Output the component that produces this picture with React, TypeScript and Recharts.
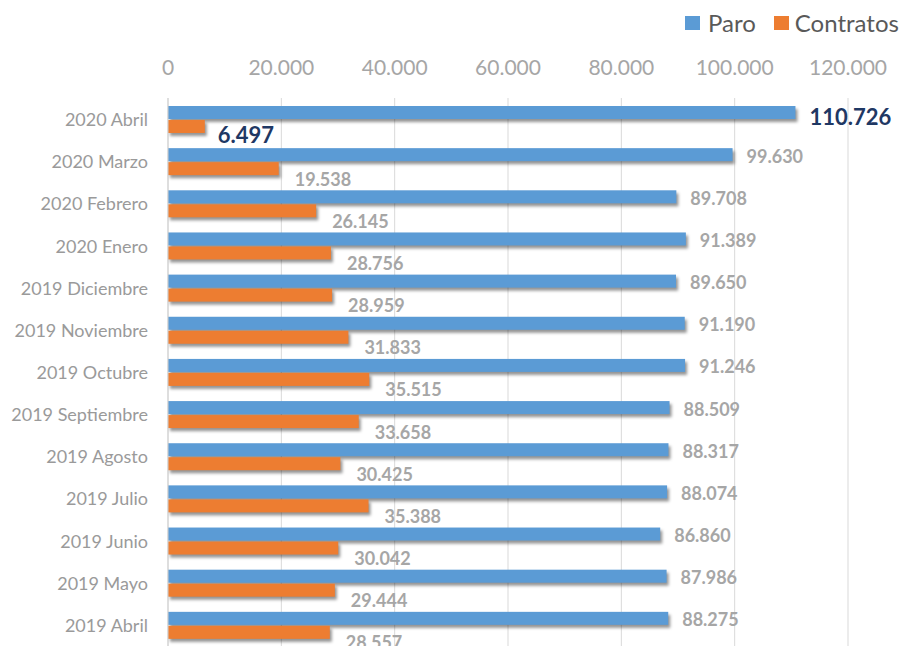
import { BarChart, Bar, XAxis, YAxis, CartesianGrid, LabelList } from 'recharts';

const meses = [
  '2020 Abril',
  '2020 Marzo',
  '2020 Febrero',
  '2020 Enero',
  '2019 Diciembre',
  '2019 Noviembre',
  '2019 Octubre',
  '2019 Septiembre',
  '2019 Agosto',
  '2019 Julio',
  '2019 Junio',
  '2019 Mayo',
  '2019 Abril',
];
const paro = [110726, 99630, 89708, 91389, 89650, 91190, 91246, 88509, 88317, 88074, 86860, 87986, 88275];
const contratos = [6497, 19538, 26145, 28756, 28959, 31833, 35515, 33658, 30425, 35388, 30042, 29444, 28557];
const xTicks = [0, 20000, 40000, 60000, 80000, 100000, 120000];

const AZUL = '#5b9bd5';
const NARANJA = '#ed7d31';
const FONT = 'Lato, "Open Sans", sans-serif';

const data = meses.map((mes, i) => ({ mes, paro: paro[i], contratos: contratos[i] }));

const fmt = (v: number) => new Intl.NumberFormat('de-DE').format(v);

const ShadowBar = (props: any) => {
  const { x, y, width, height, fill } = props;
  if (!width || width <= 0) return null;
  return (
    <g>
      <rect x={x + 2} y={y + 3} width={width} height={height} fill="rgba(0,0,0,0.42)" style={{ filter: 'blur(1.5px)' }} />
      <rect x={x} y={y} width={width} height={height} fill={fill} />
    </g>
  );
};

const makeLabel = (dx: number, dy: number, firstDx: number, firstDy: number) => (props: any) => {
  const { x, y, width, height, value, index } = props;
  const first = index === 0;
  return (
    <text
      x={x + width + (first ? firstDx : dx)}
      y={y + height / 2 + (first ? firstDy : dy)}
      dominantBaseline="central"
      fontFamily={FONT}
      fontWeight="bold"
      fontSize={first ? 22 : 18}
      fill={first ? '#1f3864' : '#a6a6a6'}
    >
      {fmt(Number(value))}
    </text>
  );
};

const MesTick = (props: any) => {
  const { y, payload } = props;
  return (
    <text x={148} y={y} textAnchor="end" dominantBaseline="central" fontFamily={FONT} fontSize={18} fill="#9a9a9a">
      {payload.value}
    </text>
  );
};

const ValorTick = (props: any) => {
  const { x, payload } = props;
  return (
    <text x={x} y={66} textAnchor="middle" dominantBaseline="central" fontFamily={FONT} fontSize={21} fill="#a6a6a6">
      {fmt(payload.value)}
    </text>
  );
};

export default function App() {
  return (
    <div style={{ position: 'absolute', left: 0, top: 0, width: 904, height: 646, background: '#fff', overflow: 'hidden' }}>
      <div
        style={{
          position: 'absolute',
          top: 8,
          left: 685,
          display: 'flex',
          alignItems: 'center',
          fontFamily: FONT,
          fontSize: 24,
          color: '#595959',
          whiteSpace: 'nowrap',
        }}
      >
        <span style={{ width: 15, height: 14, background: AZUL, display: 'inline-block', marginRight: 8 }} />
        <span>Paro</span>
        <span style={{ width: 15, height: 14, background: NARANJA, display: 'inline-block', marginLeft: 18, marginRight: 6 }} />
        <span>Contratos</span>
      </div>
      <BarChart
        width={904}
        height={646}
        data={data}
        layout="vertical"
        margin={{ top: 0, right: 56, bottom: 0, left: 0 }}
        barSize={13}
        barGap={1}
      >
        <CartesianGrid horizontal={false} stroke="#d9d9d9" />
        <XAxis
          type="number"
          orientation="top"
          domain={[0, 120000]}
          ticks={xTicks}
          height={98}
          axisLine={false}
          tickLine={false}
          tick={<ValorTick />}
          interval={0}
        />
        <YAxis
          type="category"
          dataKey="mes"
          width={168}
          axisLine={{ stroke: '#d0d0d0' }}
          tickLine={false}
          tick={<MesTick />}
          interval={0}
        />
        <Bar dataKey="paro" fill={AZUL} shape={<ShadowBar />} isAnimationActive={false}>
          <LabelList dataKey="paro" content={makeLabel(14, 1, 14, 4)} />
        </Bar>
        <Bar dataKey="contratos" fill={NARANJA} shape={<ShadowBar />} isAnimationActive={false}>
          <LabelList dataKey="contratos" content={makeLabel(16, 10, 13, 8)} />
        </Bar>
      </BarChart>
    </div>
  );
}
